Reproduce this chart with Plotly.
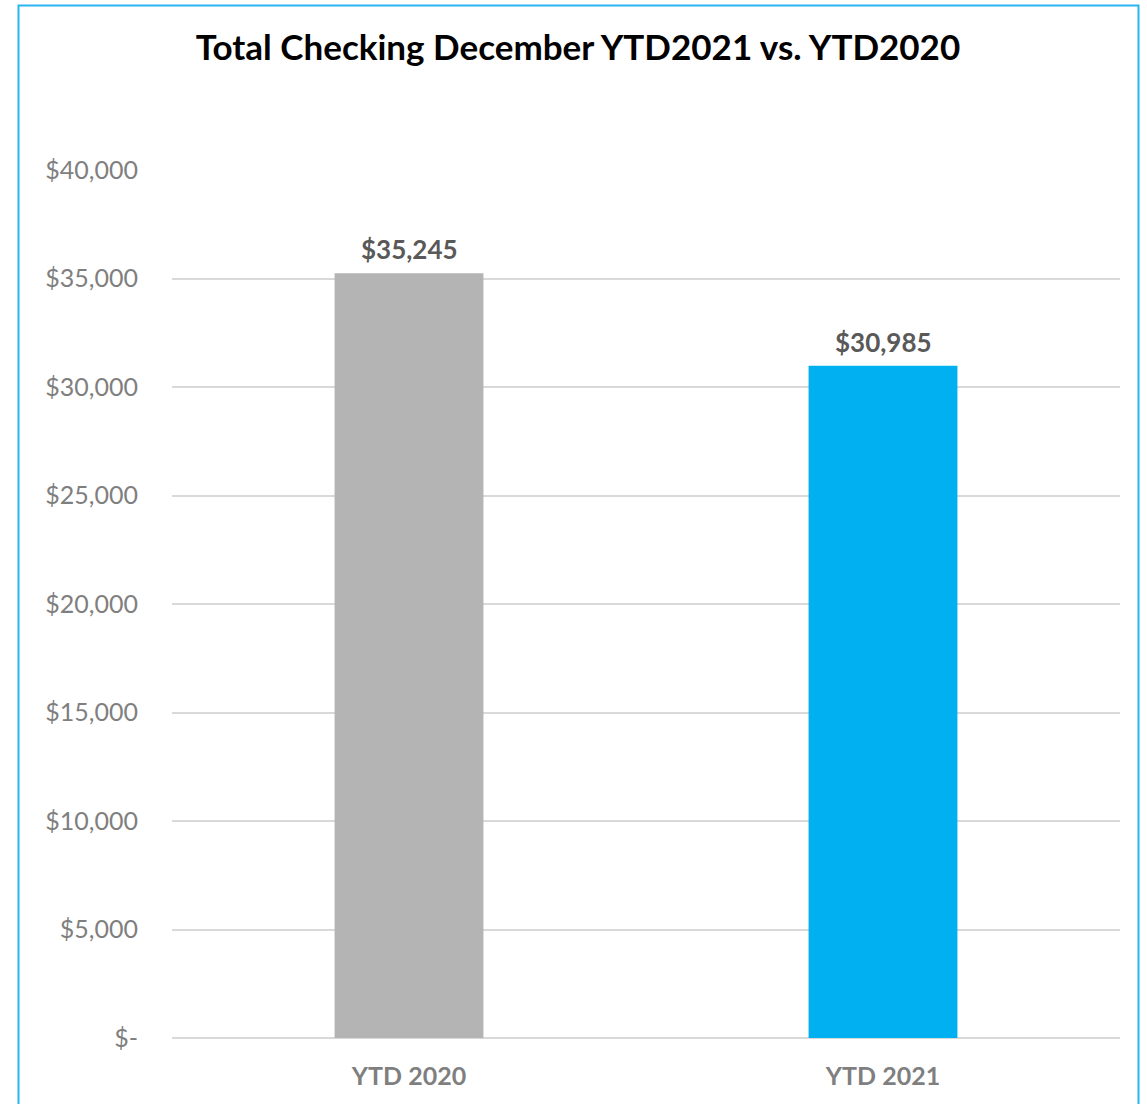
import plotly.graph_objects as go

# Year-to-date totals for checking
categories = ["YTD 2020", "YTD 2021"]
totals = [35245, 30985]
bar_colors = ["#B4B4B4", "#00B0F0"]
tick_values = [0, 5000, 10000, 15000, 20000, 25000, 30000, 35000, 40000]
tick_labels = ["$-", "$5,000", "$10,000", "$15,000", "$20,000",
               "$25,000", "$30,000", "$35,000", "$40,000"]

W, H = 1147, 1104
L, R, T, B = 172, 27, 170, 66
pw, ph = W - L - R, H - T - B

def px_x(x):
    return (x - L) / pw

def px_y(y):
    return (H - B - y) / ph

fig = go.Figure(
    go.Bar(
        x=categories,
        y=totals,
        marker=dict(color=bar_colors, line=dict(width=0)),
        width=0.314,
        hoverinfo="x+y",
    )
)

# value labels above each bar
for cat, val in zip(categories, totals):
    fig.add_annotation(
        x=cat,
        y=val,
        text=f"<b>${val:,}</b>",
        showarrow=False,
        yanchor="bottom",
        yshift=6,
        font=dict(family="Lato", size=26, color="#595959"),
    )

fig.update_layout(
    width=W,
    height=H,
    margin=dict(l=L, r=R, t=T, b=B),
    paper_bgcolor="white",
    plot_bgcolor="white",
    showlegend=False,
    title=dict(
        text="<b>Total Checking December YTD2021 vs. YTD2020</b>",
        x=px_x(578),
        xanchor="center",
        y=1 - 48 / H,
        yanchor="middle",
        xref="paper",
        font=dict(family="Lato", size=35, color="#000000"),
    ),
    xaxis=dict(
        showgrid=False,
        showline=False,
        ticks="",
        ticklabelstandoff=21,
        tickfont=dict(family="Lato", size=25, color="#7F7F7F", weight="bold"),
    ),
    yaxis=dict(
        range=[0, 40000],
        tickvals=tick_values,
        ticktext=tick_labels,
        showgrid=True,
        gridcolor="#D9D9D9",
        gridwidth=2,
        zeroline=True,
        zerolinecolor="#D9D9D9",
        zerolinewidth=2,
        showline=False,
        ticks="",
        ticklabelstandoff=33,
        tickfont=dict(family="Lato", size=25, color="#7F7F7F"),
    ),
    shapes=[
        dict(
            type="rect",
            xref="paper",
            yref="paper",
            x0=px_x(18.5),
            x1=px_x(1138.5),
            y0=px_y(H + 10),
            y1=px_y(5.5),
            line=dict(color="#29B5F2", width=2),
            fillcolor="rgba(0,0,0,0)",
            layer="below",
        )
    ],
)

fig.write_html("out.html")
